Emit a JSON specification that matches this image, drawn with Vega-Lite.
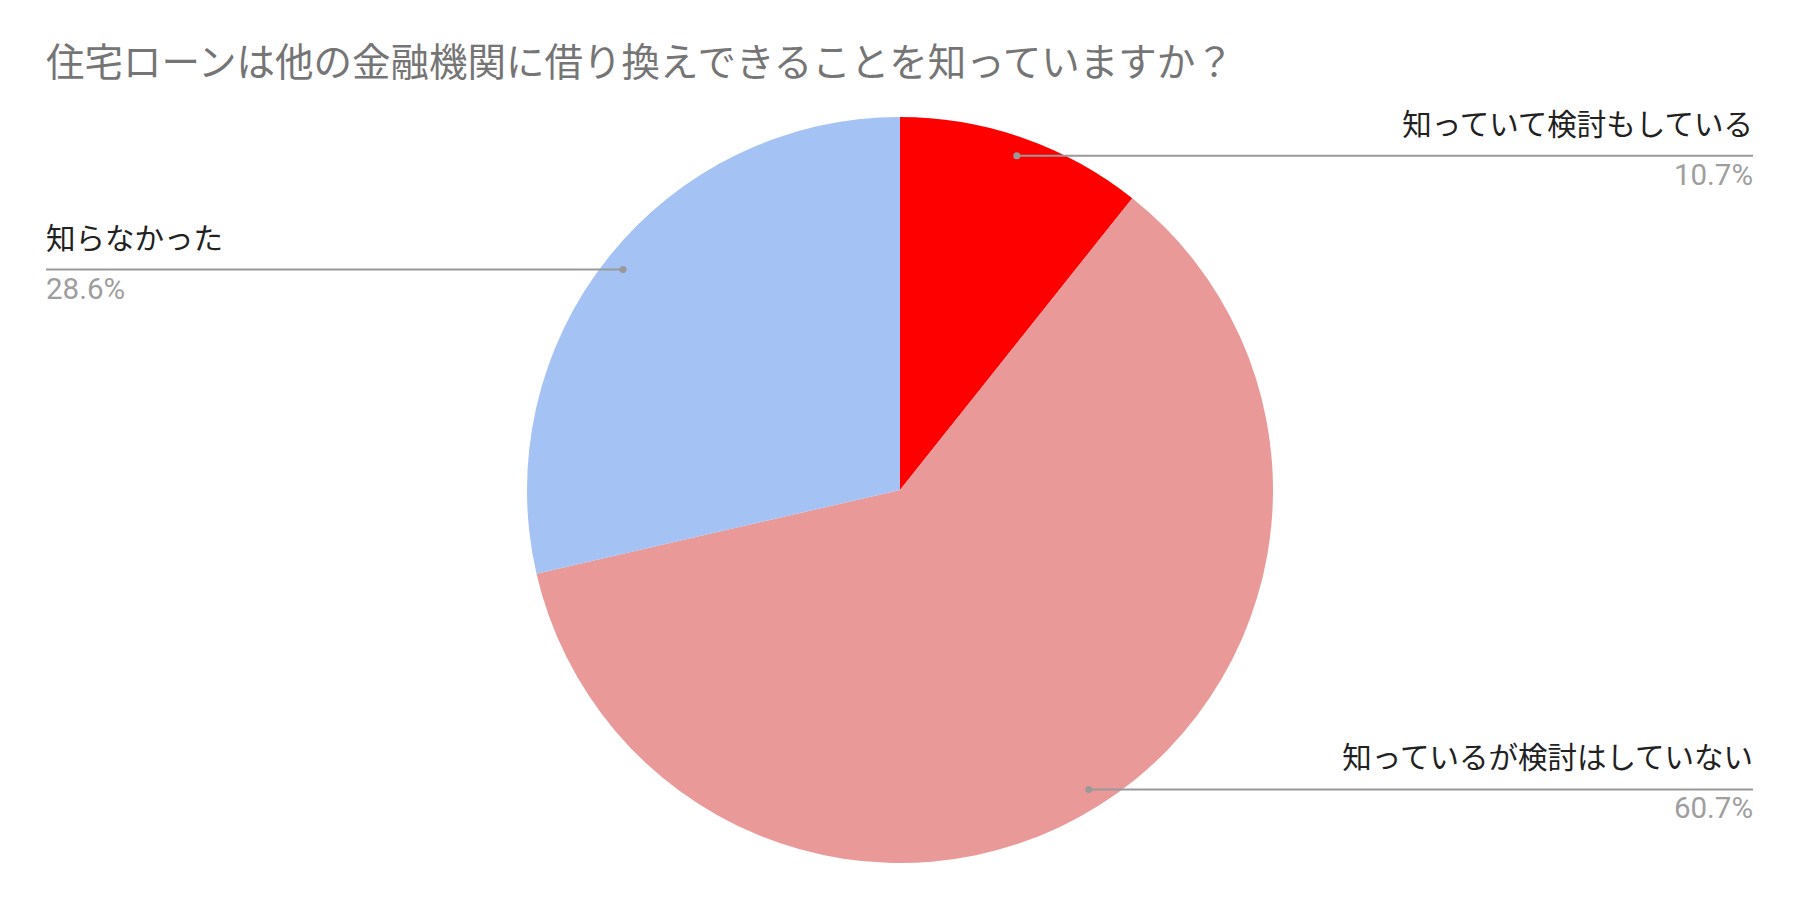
{
  "$schema": "https://vega.github.io/schema/vega-lite/v6.json",
  "width": 1800,
  "height": 840,
  "autosize": {"type": "none"},
  "padding": {"top": 70, "left": 0, "right": 0, "bottom": 0},
  "background": "white",
  "title": {
    "text": "住宅ローンは他の金融機関に借り換えできることを知っていますか？",
    "anchor": "start",
    "frame": "group",
    "dx": 46,
    "offset": -14,
    "font": "Noto Sans CJK JP",
    "fontSize": 38.5,
    "fontWeight": "normal",
    "color": "#757575"
  },
  "config": {"view": {"stroke": null}},
  "data": {
    "values": [
      {"category": "知っていて検討もしている", "value": 10.7},
      {"category": "知っているが検討はしていない", "value": 60.7},
      {"category": "知らなかった", "value": 28.6}
    ]
  },
  "transform": [
    {"window": [{"op": "row_number", "as": "i"}]},
    {"stack": "value", "groupby": [], "sort": [{"field": "i", "order": "ascending"}], "offset": "normalize", "as": ["v0", "v1"]},
    {"calculate": "PI * (datum.v0 + datum.v1)", "as": "ang"},
    {"calculate": "354 * sin(datum.ang)", "as": "px"},
    {"calculate": "354 * cos(datum.ang)", "as": "py"},
    {"calculate": "datum.px > 0 ? 853 : -854", "as": "lx"},
    {"calculate": "format(datum.value, '.1f') + '%'", "as": "pct"}
  ],
  "layer": [
    {
      "mark": {"type": "arc", "outerRadius": 373},
      "encoding": {
        "theta": {"field": "v0", "type": "quantitative", "scale": {"domain": [0, 1], "range": [0, 6.283185307179586]}},
        "theta2": {"field": "v1"},
        "color": {
          "field": "category",
          "type": "nominal",
          "scale": {
            "domain": ["知っていて検討もしている", "知っているが検討はしていない", "知らなかった"],
            "range": ["#ff0000", "#ea9999", "#a4c2f4"]
          },
          "legend": null
        }
      }
    },
    {
      "mark": {"type": "rule", "color": "#999999", "strokeWidth": 2},
      "encoding": {
        "x": {"field": "px", "type": "quantitative", "scale": {"domain": [-900, 900], "nice": false, "zero": false}, "axis": null},
        "x2": {"field": "lx"},
        "y": {"field": "py", "type": "quantitative", "scale": {"domain": [-420, 420], "nice": false, "zero": false}, "axis": null}
      }
    },
    {
      "mark": {"type": "circle", "color": "#999999", "opacity": 1, "size": 50},
      "encoding": {
        "x": {"field": "px", "type": "quantitative"},
        "y": {"field": "py", "type": "quantitative"}
      }
    },
    {
      "transform": [{"filter": "datum.px > 0"}],
      "mark": {"type": "text", "align": "right", "baseline": "middle", "dy": -30, "font": "Noto Sans CJK JP", "fontSize": 29.5, "color": "#212121"},
      "encoding": {
        "x": {"field": "lx", "type": "quantitative"},
        "y": {"field": "py", "type": "quantitative"},
        "text": {"field": "category"}
      }
    },
    {
      "transform": [{"filter": "datum.px <= 0"}],
      "mark": {"type": "text", "align": "left", "baseline": "middle", "dy": -30, "font": "Noto Sans CJK JP", "fontSize": 29.5, "color": "#212121"},
      "encoding": {
        "x": {"field": "lx", "type": "quantitative"},
        "y": {"field": "py", "type": "quantitative"},
        "text": {"field": "category"}
      }
    },
    {
      "transform": [{"filter": "datum.px > 0"}],
      "mark": {"type": "text", "align": "right", "baseline": "middle", "dy": 20, "font": "Roboto", "fontSize": 29.5, "color": "#9e9e9e"},
      "encoding": {
        "x": {"field": "lx", "type": "quantitative"},
        "y": {"field": "py", "type": "quantitative"},
        "text": {"field": "pct"}
      }
    },
    {
      "transform": [{"filter": "datum.px <= 0"}],
      "mark": {"type": "text", "align": "left", "baseline": "middle", "dy": 20, "font": "Roboto", "fontSize": 29.5, "color": "#9e9e9e"},
      "encoding": {
        "x": {"field": "lx", "type": "quantitative"},
        "y": {"field": "py", "type": "quantitative"},
        "text": {"field": "pct"}
      }
    }
  ]
}
